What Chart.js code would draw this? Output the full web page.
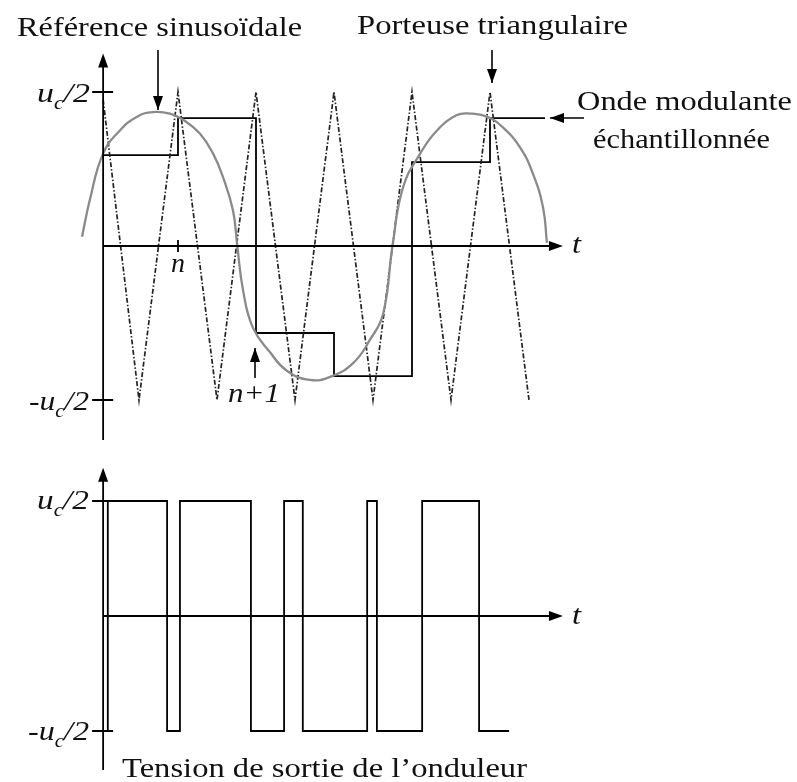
<!DOCTYPE html>
<html>
<head>
<meta charset="utf-8">
<script src="https://cdn.jsdelivr.net/npm/chart.js@4.4.1/dist/chart.umd.min.js"></script>
<style>
  html, body { margin:0; padding:0; background:#fff; }
  #wrap { position:relative; width:797px; height:782px; }
  .probe { position:absolute; left:-999px; top:0; font-family:"Liberation Serif"; }
</style>
</head>
<body>
<span class="probe">Aa</span><span class="probe" style="font-style:italic">Aa</span>
<div id="wrap"><canvas id="pwm" width="797" height="782"></canvas></div>
<script>
// time is in carrier half-periods, amplitudes in units of u_c/2

// sinusoidal reference (hand-drawn in the source, read point by point)
const SINE_T = [-0.46, -0.26, 0.08, 0.51, 0.95, 1.36, 1.79, 2.13, 2.56, 2.90, 3.15, 3.41, 3.52, 3.67, 3.92, 4.36, 4.79, 5.38, 5.90, 6.49, 6.92, 7.26, 7.50, 7.77, 8.21, 8.64, 9.15, 9.49, 9.92, 10.33, 10.77, 11.10, 11.36, 11.46];
const SINE_V = [0.06, 0.30, 0.60, 0.75, 0.84, 0.87, 0.86, 0.82, 0.73, 0.60, 0.45, 0.23, 0.0, -0.29, -0.53, -0.69, -0.81, -0.87, -0.85, -0.76, -0.61, -0.44, 0.0, 0.38, 0.60, 0.75, 0.85, 0.86, 0.84, 0.77, 0.64, 0.47, 0.25, 0.02];

// triangular carrier vertices
const CARRIER_T = [0.08, 1, 2, 3, 4, 5, 6, 7, 8, 9, 10, 11];
const CARRIER_V = [0.95, -1, 1, -1, 1, -1, 1, -1, 1, -1, 1, -1];

// sampled modulating wave: edges and held levels
const SAMPLE_T = [0.08, 2, 4, 6, 8, 10, 11.41];
const SAMPLE_V = [0.59, 0.83, -0.565, -0.845, 0.545, 0.83];

// inverter output: switching instants and levels between them
const SWITCH_T = [0.08, 0.2, 1.72, 2.05, 3.87, 4.72, 5.2, 6.85, 7.1, 8.26, 9.72, 10.49];
const SWITCH_V = [-1, 1, -1, 1, -1, 1, -1, 1, -1, 1, -1];

// layout of the two panels (pixels)
const T0_PX = 100, T_UNIT = 39;
const TOP_ZERO = 246, TOP_UNIT = 154;
const BOT_ZERO = 616, BOT_UNIT = 115;
const W = 797, H = 782;

const AXIS_T = 0.08;      // vertical axes position
const T_END = 11.87;      // tip of the t arrows
const TOP_AXIS = { up: 1.25, down: -1.26 };
const BOT_AXIS = { up: 1.29, down: -1.34 };

const SERIF = "'Liberation Serif', 'Times New Roman', Times, serif";

const pts = (ts, vs) => ts.map((t, i) => ({ x: t, y: vs[i] }));
function steps(ts, vs){
  const out = [];
  vs.forEach((v, i) => { out.push({ x: ts[i], y: v }, { x: ts[i + 1], y: v }); });
  return out;
}

function arrowHead(ctx, x, y, dir, len = 14, hw = 5){
  ctx.beginPath();
  if (dir === "up")    { ctx.moveTo(x, y); ctx.lineTo(x - hw, y + len); ctx.lineTo(x + hw, y + len); }
  if (dir === "down")  { ctx.moveTo(x, y); ctx.lineTo(x - hw, y - len); ctx.lineTo(x + hw, y - len); }
  if (dir === "right") { ctx.moveTo(x, y); ctx.lineTo(x - len, y - hw); ctx.lineTo(x - len, y + hw); }
  if (dir === "left")  { ctx.moveTo(x, y); ctx.lineTo(x + len, y - hw); ctx.lineTo(x + len, y + hw); }
  ctx.closePath();
  ctx.fill();
}

function arrow(ctx, x1, y1, x2, y2, dir){
  ctx.beginPath(); ctx.moveTo(x1, y1); ctx.lineTo(x2, y2); ctx.stroke();
  arrowHead(ctx, x2, y2, dir);
}

// text fitted to a target width
function fitText(ctx, s, x, y, width, font){
  ctx.save();
  ctx.font = font;
  const k = width / ctx.measureText(s).width;
  ctx.translate(x, y);
  ctx.scale(k, 1);
  ctx.textBaseline = "alphabetic";
  ctx.fillText(s, 0, 0);
  ctx.restore();
}

// "u_c/2" style label, left..right fitted
function ucLabel(ctx, neg, left, right, base){
  const big = "italic 28px " + SERIF, small = "italic 18px " + SERIF;
  const parts = [[neg ? "-u" : "u", big, 0], ["c", small, 7], ["/2", big, 0]];
  ctx.save();
  let w = 0;
  parts.forEach(p => { ctx.font = p[1]; w += ctx.measureText(p[0]).width; });
  const k = (right - left) / w;
  ctx.translate(left, base);
  ctx.scale(k, 1);
  let cx = 0;
  parts.forEach(p => { ctx.font = p[1]; ctx.fillText(p[0], cx, p[2]); cx += ctx.measureText(p[0]).width; });
  ctx.restore();
}

function drawAxes(ctx, xs, ys, ax){
  const px = xs.getPixelForValue(AXIS_T);
  const top = ys.getPixelForValue(ax.up), bot = ys.getPixelForValue(ax.down);
  const y0 = ys.getPixelForValue(0), xEnd = xs.getPixelForValue(T_END);
  ctx.beginPath();
  ctx.moveTo(px, bot); ctx.lineTo(px, top + 10);
  ctx.moveTo(px, y0); ctx.lineTo(xEnd - 10, y0);
  [1, -1].forEach(v => {
    const yy = ys.getPixelForValue(v);
    ctx.moveTo(px - 11, yy); ctx.lineTo(px + 10, yy);
  });
  ctx.stroke();
  arrowHead(ctx, px, top, "up");
  arrowHead(ctx, xEnd, y0, "right");
}

const sketch = {
  id: "sketch",
  afterDatasetsDraw(chart){
    const { ctx, scales: { x, y, y2 } } = chart;
    ctx.save();
    ctx.strokeStyle = "#000";
    ctx.fillStyle = "#000";
    ctx.lineWidth = 1.8;
    drawAxes(ctx, x, y, TOP_AXIS);
    drawAxes(ctx, x, y2, BOT_AXIS);

    // tick for sample n
    const nx = x.getPixelForValue(2);
    ctx.beginPath(); ctx.moveTo(nx, TOP_ZERO - 6); ctx.lineTo(nx, TOP_ZERO + 6); ctx.stroke();

    // pointer arrows
    ctx.lineWidth = 1.6;
    arrow(ctx, 158, 50, 158, 110, "down");
    arrow(ctx, 492, 50, 492, 83, "down");
    arrow(ctx, 584, 118, 550, 118, "left");
    arrow(ctx, 255, 378, 255, 348, "up");

    // texts
    ctx.fillStyle = "#111";
    const serif = "28px " + SERIF;
    fitText(ctx, "Référence sinusoïdale", 17, 36, 285, serif);
    fitText(ctx, "Porteuse triangulaire", 357, 34, 271, serif);
    fitText(ctx, "Onde modulante", 577, 110, 215, serif);
    fitText(ctx, "échantillonnée", 593, 148, 177, serif);
    fitText(ctx, "Tension de sortie de l\u2019onduleur", 122, 777, 405, serif);

    const it = "italic 28px " + SERIF;
    fitText(ctx, "t", 572, 253, 9, it);
    fitText(ctx, "t", 572, 624, 9, it);
    fitText(ctx, "n", 171, 272, 14, it);
    fitText(ctx, "n+1", 228, 402, 52, it);

    ucLabel(ctx, false, 37, 90, 102);
    ucLabel(ctx, true, 29, 89, 410);
    ucLabel(ctx, false, 37, 89, 509);
    ucLabel(ctx, true, 28, 89, 740);
    ctx.restore();
  }
};

function draw(){
  new Chart(document.getElementById("pwm"), {
    type: "scatter",
    data: {
      datasets: [
        { label: "Référence sinusoïdale", data: pts(SINE_T, SINE_V), showLine: true, borderColor: "#8a8a8a", borderWidth: 2.3, pointRadius: 0, tension: 0.45, yAxisID: "y" },
        { label: "Porteuse triangulaire", data: pts(CARRIER_T, CARRIER_V), showLine: true, borderColor: "#222", borderWidth: 1.7, borderDash: [5, 2, 1.5, 2], pointRadius: 0, yAxisID: "y" },
        { label: "Onde modulante échantillonnée", data: steps(SAMPLE_T, SAMPLE_V), showLine: true, borderColor: "#000", borderWidth: 1.8, pointRadius: 0, yAxisID: "y" },
        { label: "Tension de sortie de l'onduleur", data: steps(SWITCH_T, SWITCH_V), showLine: true, borderColor: "#000", borderWidth: 1.8, pointRadius: 0, yAxisID: "y2" }
      ]
    },
    options: {
      responsive: false,
      animation: false,
      layout: { padding: 0 },
      plugins: { legend: { display: false }, tooltip: { enabled: false } },
      scales: {
        x:  { type: "linear", display: false, min: -T0_PX / T_UNIT, max: (W - T0_PX) / T_UNIT },
        y:  { display: false, min: (TOP_ZERO - H) / TOP_UNIT, max: TOP_ZERO / TOP_UNIT },
        y2: { display: false, min: (BOT_ZERO - H) / BOT_UNIT, max: BOT_ZERO / BOT_UNIT }
      }
    },
    plugins: [sketch]
  });
}

Promise.all([
  document.fonts.load("28px 'Liberation Serif'"),
  document.fonts.load("italic 28px 'Liberation Serif'")
]).then(draw, draw);
</script>
</body>
</html>
